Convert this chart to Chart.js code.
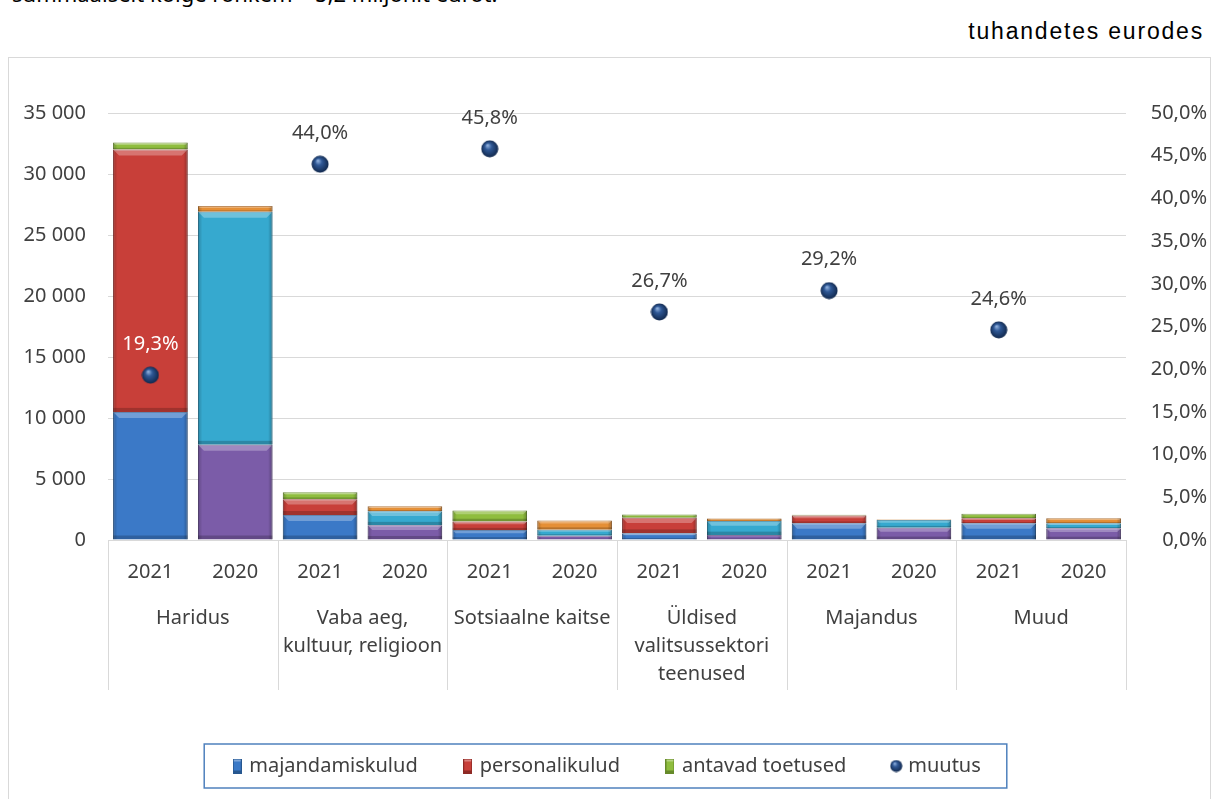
<!DOCTYPE html>
<html>
<head>
<meta charset="utf-8">
<script src="https://cdn.jsdelivr.net/npm/chart.js@4/dist/chart.umd.min.js"></script>
<style>
html,body{margin:0;padding:0;background:#fff;overflow:hidden;width:1215px;height:799px;}
#title{position:absolute;left:12px;top:-20px;font-family:"Noto Sans";font-size:22px;line-height:26px;color:#000;white-space:nowrap;}
#unit{position:absolute;right:11px;top:17px;font-family:"Liberation Sans";font-size:23px;letter-spacing:1.8px;line-height:28px;color:#000;white-space:nowrap;}
#box{position:absolute;left:8px;top:57px;width:1201px;height:780px;border:1px solid #d9d9d9;background:#fff;}
#wrap{position:absolute;left:0;top:0;width:1201px;height:760px;}
</style>
</head>
<body>
<div id="title">summaalselt kõige rohkem – 5,2 miljonit eurot.</div>
<div id="unit">tuhandetes eurodes</div>
<div id="box"><div id="wrap"><canvas id="c"></canvas></div></div>
<script>
// ---- data ----
const years = ['2021','2020','2021','2020','2021','2020','2021','2020','2021','2020','2021','2020'];
const groups = ['Haridus', ['Vaba aeg,','kultuur, religioon'], 'Sotsiaalne kaitse', ['Üldised','valitsussektori','teenused'], 'Majandus', 'Muud'];
const majandamiskulud = [10500, 7800, 2050, 1200, 820, 350, 550, 400, 1370, 1000, 1370, 960];
const personalikulud  = [21500, 19100, 1300, 1150, 700, 500, 1280, 1150, 630, 630, 420, 420];
const antavadToetused = [580, 470, 570, 410, 900, 740, 270, 220, 60, 50, 360, 410];
const muutus = [19.3, null, 44.0, null, 45.8, null, 26.7, null, 29.2, null, 24.6, null];
const seriesNames = ['majandamiskulud', 'personalikulud', 'antavad toetused', 'muutus'];
const leftMax = 35000, leftStep = 5000;
const rightMax = 50, rightStep = 5;

// ---- styles ----
const FONT = '"Noto Sans", "DejaVu Sans", sans-serif';
const TXT = '#404040';
const GRID = '#d9d9d9';
const colMaj = ['#3b79c7', '#7b5ca8'];
const colPers = ['#c83f39', '#36a9cf'];
const colToet = ['#8fbd3e', '#e58f36'];
const pick = pair => ctx => pair[ctx.dataIndex % 2];
const darker = {'#3b79c7':'#27578f','#7b5ca8':'#55407a','#c83f39':'#8e2a26','#36a9cf':'#24799a','#8fbd3e':'#668a2a','#e58f36':'#a96522'};
const pickB = pair => ctx => darker[pair[ctx.dataIndex % 2]];

function sphere(d){
  const c = document.createElement('canvas'); c.width = d; c.height = d;
  const g = c.getContext('2d');
  const r = d/2;
  const grad = g.createRadialGradient(r*0.75, r*0.6, r*0.05, r, r, r);
  grad.addColorStop(0, '#8fb0dd');
  grad.addColorStop(0.35, '#2f5896');
  grad.addColorStop(1, '#0f2548');
  g.fillStyle = grad;
  g.beginPath(); g.arc(r, r, r-0.5, 0, Math.PI*2); g.fill();
  return c;
}
function marker(color, dark){
  const c = document.createElement('canvas'); c.width = 9; c.height = 15;
  const g = c.getContext('2d');
  g.fillStyle = color; g.fillRect(0,0,9,15);
  g.fillStyle = 'rgba(255,255,255,0.35)'; g.fillRect(0,0,9,3);
  g.fillStyle = dark; g.fillRect(0,12,9,3);
  g.strokeStyle = dark; g.lineWidth = 1; g.strokeRect(0.5,0.5,8,14);
  return c;
}
const pointImg = sphere(18);
const legendMarkers = [marker(colMaj[0], '#27578f'), marker(colPers[0], '#8e2a26'), marker(colToet[0], '#668a2a'), sphere(13)];

// bevel overlay on bars
const bevel = {
  id: 'bevel',
  afterDatasetDraw(chart, args){
    const meta = args.meta;
    if (meta.type !== 'bar') return;
    const ctx = chart.ctx;
    meta.data.forEach(el => {
      const p = el.getProps(['x','y','base','width'], true);
      const l = p.x - p.width/2, w = p.width;
      const t = Math.min(p.y, p.base), h = Math.abs(p.base - p.y);
      if (h < 0.5) return;
      ctx.save();
      ctx.beginPath(); ctx.rect(l, t, w, h); ctx.clip();
      const gx = ctx.createLinearGradient(l, 0, l + w, 0);
      gx.addColorStop(0, 'rgba(0,0,0,0.22)');
      gx.addColorStop(0.06, 'rgba(0,0,0,0.0)');
      gx.addColorStop(0.94, 'rgba(0,0,0,0.0)');
      gx.addColorStop(1, 'rgba(0,0,0,0.28)');
      ctx.fillStyle = gx; ctx.fillRect(l, t, w, h);
      const bh = Math.min(6, h/3);
      ctx.fillStyle = 'rgba(255,255,255,0.28)';
      ctx.beginPath();
      ctx.moveTo(l, t); ctx.lineTo(l + w, t); ctx.lineTo(l + w - bh, t + bh); ctx.lineTo(l + bh, t + bh); ctx.closePath(); ctx.fill();
      const db = Math.min(4, h/4);
      ctx.fillStyle = 'rgba(0,0,0,0.2)';
      ctx.fillRect(l, t + h - db, w, db);
      ctx.restore();
    });
  }
};

// divider lines for category groups
const dividers = {
  id: 'dividers',
  afterDraw(chart){
    const s = chart.scales.x2, ca = chart.chartArea, ctx = chart.ctx;
    const n = groups.length;
    ctx.save();
    ctx.strokeStyle = GRID; ctx.lineWidth = 1;
    for (let k = 0; k <= n; k++){
      const x = Math.round(s.left + k * s.width / n) + 0.5;
      ctx.beginPath(); ctx.moveTo(x, ca.bottom); ctx.lineTo(x, ca.bottom + 150); ctx.stroke();
    }
    ctx.restore();
  }
};

// value labels for muutus
const pctLabels = {
  id: 'pctLabels',
  afterDatasetsDraw(chart){
    const idx = chart.data.datasets.findIndex(d => d.type === 'line');
    const meta = chart.getDatasetMeta(idx);
    const ctx = chart.ctx;
    ctx.save();
    ctx.font = '20px ' + FONT;
    ctx.textAlign = 'center'; ctx.textBaseline = 'middle';
    meta.data.forEach((pt, i) => {
      const v = muutus[i];
      if (v === null) return;
      ctx.fillStyle = i === 0 ? '#ffffff' : TXT;
      ctx.fillText(v.toFixed(1).replace('.', ',') + '%', pt.x, pt.y - 31);
    });
    ctx.restore();
  }
};

// blue frame around legend
const legendFrame = {
  id: 'legendFrame',
  afterDraw(chart){
    const lg = chart.legend;
    if (!lg || !lg.legendHitBoxes || !lg.legendHitBoxes.length) return;
    const hb = lg.legendHitBoxes;
    const first = hb[0], last = hb[hb.length - 1];
    const cy = first.top + first.height / 2;
    const l = first.left - 31, r = last.left + last.width + 26;
    const ctx = chart.ctx;
    ctx.save();
    ctx.strokeStyle = '#4f81bd'; ctx.lineWidth = 1.5;
    ctx.strokeRect(l, cy - 22, r - l, 44);
    ctx.restore();
  }
};

Chart.defaults.font.family = FONT;
Chart.defaults.font.size = 20;
Chart.defaults.color = TXT;

new Chart(document.getElementById('c'), {
  data: {
    labels: years,
    datasets: [
      { type: 'bar', label: seriesNames[0], data: majandamiskulud, backgroundColor: pick(colMaj), borderColor: pickB(colMaj), borderWidth: 1, stack: 's', yAxisID: 'y', xAxisID: 'x', order: 1, barPercentage: 0.88, categoryPercentage: 1 },
      { type: 'bar', label: seriesNames[1], data: personalikulud, backgroundColor: pick(colPers), borderColor: pickB(colPers), borderWidth: 1, stack: 's', yAxisID: 'y', xAxisID: 'x', order: 1, barPercentage: 0.88, categoryPercentage: 1 },
      { type: 'bar', label: seriesNames[2], data: antavadToetused, backgroundColor: pick(colToet), borderColor: pickB(colToet), borderWidth: 1, stack: 's', yAxisID: 'y', xAxisID: 'x', order: 1, barPercentage: 0.88, categoryPercentage: 1 },
      { type: 'line', label: seriesNames[3], data: muutus, showLine: false, pointStyle: pointImg, pointRadius: 9, backgroundColor: '#1f4a80', borderColor: '#10284a', yAxisID: 'y1', xAxisID: 'x', order: 0 }
    ]
  },
  options: {
    responsive: true,
    maintainAspectRatio: false,
    animation: false,
    layout: { padding: { left: 0, right: 3, top: 55, bottom: 32 } },
    plugins: {
      tooltip: { enabled: false },
      legend: {
        position: 'bottom',
        labels: {
          usePointStyle: true,
          boxWidth: 4,
          padding: 48,
          color: TXT,
          font: { size: 20, family: FONT },
          sort: (a, b) => a.datasetIndex - b.datasetIndex,
          generateLabels(chart){
            const items = Chart.defaults.plugins.legend.labels.generateLabels(chart);
            items.forEach(it => { it.pointStyle = legendMarkers[it.datasetIndex]; });
            return items;
          }
        }
      }
    },
    scales: {
      x: {
        type: 'category',
        position: 'bottom',
        weight: 0,
        offset: true,
        grid: { display: false, drawTicks: false },
        border: { display: false },
        ticks: { padding: 20, maxRotation: 0, autoSkip: false, color: TXT, font: { size: 20 } },
        afterFit(s){ s.height = 55; }
      },
      x2: {
        type: 'category',
        position: 'bottom',
        weight: 1,
        labels: groups,
        offset: true,
        grid: { display: false, drawTicks: false },
        border: { display: false },
        ticks: { padding: 9, maxRotation: 0, autoSkip: false, color: TXT, font: { size: 20, lineHeight: '28px' } },
        afterFit(s){ s.height = 113; }
      },
      y: {
        position: 'left',
        min: 0, max: leftMax,
        grid: { color: GRID, drawTicks: false },
        border: { display: false },
        ticks: {
          stepSize: leftStep, padding: 22, color: TXT, font: { size: 20 },
          callback: v => String(v).replace(/\B(?=(\d{3})+(?!\d))/g, ' ')
        },
        afterFit(s){ s.width = 99; }
      },
      y1: {
        position: 'right',
        min: 0, max: rightMax,
        grid: { display: false, drawOnChartArea: false, drawTicks: false },
        border: { display: false },
        ticks: {
          stepSize: rightStep, crossAlign: 'far', padding: 0, color: TXT, font: { size: 20 },
          callback: v => v.toFixed(1).replace('.', ',') + '%'
        },
        afterFit(s){ s.width = 81; }
      }
    }
  },
  plugins: [bevel, dividers, pctLabels, legendFrame]
});
</script>
</body>
</html>
